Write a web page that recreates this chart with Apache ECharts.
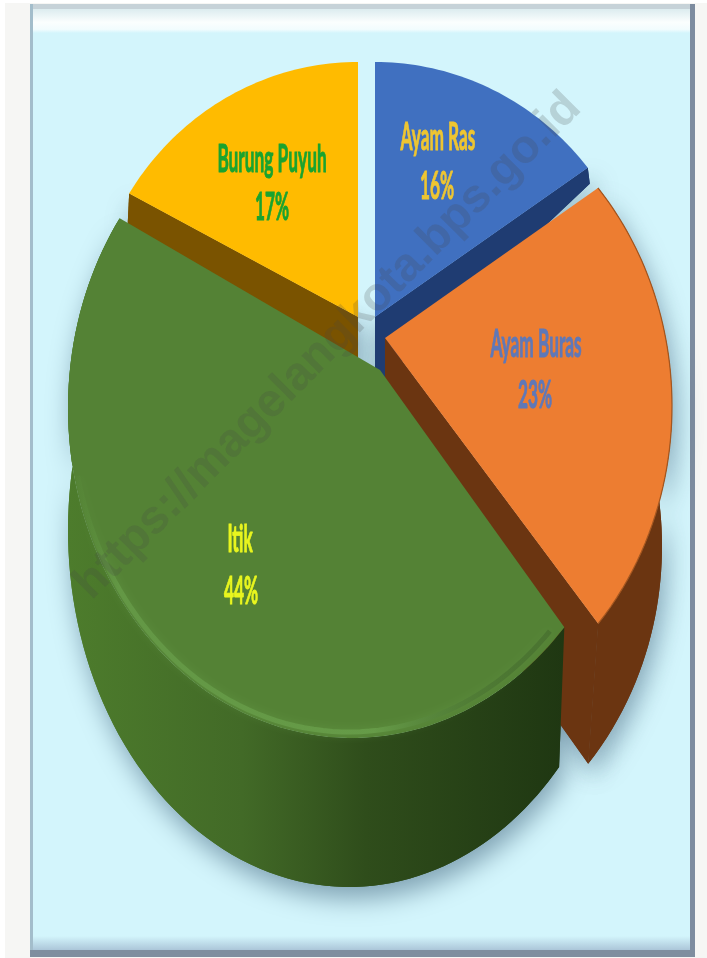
<!DOCTYPE html>
<html>
<head>
<meta charset="utf-8">
<style>html,body{margin:0;padding:0;background:#fff}#c{width:707px;height:958px}</style>
<script src="https://cdn.jsdelivr.net/npm/echarts@6/dist/echarts.min.js"></script>
</head>
<body>
<div id="c"></div>
<script>
const categories = ['Ayam Ras', 'Ayam Buras', 'Itik', 'Burung Puyuh'];
const values = [16, 23, 44, 17];
const watermark = 'https://magelangkota.bps.go.id';

// drawing geometry of the tilted, exploded pie (separate from the data)
const layout = [
  { e:[375,345,273,283], apex:[375,317], nudge:[0,3], top:'#4070c0',
    cut:'end', tip:[2,16], apexOff:[0,70], cutFill:'#1f3c72',
    label:[438,138], pct:[437,187], color:'#eec531' },
  { e:[375,406,297,330], apex:[385,338], nudge:[9,9], top:'#ed7d31', bottom:[365,546,297,330],
    wall:'#6b3511', cut:'end', tip:[-10,140], apexOff:[0,140], cutFill:'#6b3511', rimEdge:'#a4561f',
    label:[536,345], pct:[535,396], color:'#5f78b8' },
  { e:[352,408,284,330], apex:[380,370], nudge:[8.4,-10.6], top:'#548235', bottom:[349,530,281,357],
    wall:'grad', rimLight:[349,405,278,327],
    label:[240,540], pct:[241,592], color:'#e8f51e' },
  { e:[358,345,271,283], apex:[358,317], nudge:[-6.5,0], top:'#ffbb00',
    cut:'start', tip:[-2,42], apexOff:[0,60], cutFill:'#7a5300',
    label:[272,160], pct:[272,208], color:'#19a32f' }
];

const total = values.reduce((a, b) => a + b, 0);
function span(i) {
  let s = 0;
  for (let k = 0; k < i; k++) s += values[k];
  return [s / total * 360 + layout[i].nudge[0], (s + values[i]) / total * 360 + layout[i].nudge[1]];
}
// perspective image of a circle point: disk automorphism that sends the centre to the apex
function rimPoint(L, deg) {
  const r = deg * Math.PI / 180, zx = Math.sin(r), zy = -Math.cos(r);
  const wx = (L.apex[0] - L.e[0]) / L.e[2], wy = (L.apex[1] - L.e[1]) / L.e[3];
  const nx = zx + wx, ny = zy + wy;
  const dx = 1 + (wx * zx + wy * zy), dy = wx * zy - wy * zx;
  const m = dx * dx + dy * dy;
  return [(nx * dx + ny * dy) / m, (ny * dx - nx * dy) / m];
}
const onE = (e, t) => [e[0] + e[2] * t[0], e[1] + e[3] * t[1]];
function arc(L, a, b, e) {
  const pts = [], n = Math.max(8, Math.ceil(Math.abs(b - a) / 1.5));
  for (let i = 0; i <= n; i++) pts.push(onE(e, rimPoint(L, a + (b - a) * i / n)));
  return pts;
}
function wallFill(L) {
  if (L.wall === 'grad') {
    return new echarts.graphic.LinearGradient(68, 0, 565, 0, [
      { offset: 0, color: '#4d7c2c' }, { offset: 0.35, color: '#426a27' },
      { offset: 0.6, color: '#2f4d1b' }, { offset: 1, color: '#1f3712' }], true);
  }
  return L.wall;
}
function wallShapes(i, shadow) {
  const L = layout[i], [a, b] = span(i), kids = [];
  const sh = shadow ? { shadowBlur: 26, shadowColor: 'rgba(60,95,120,0.55)', shadowOffsetX: 4, shadowOffsetY: 12 } : {};
  if (L.cut) {
    const p = onE(L.e, rimPoint(L, L.cut === 'end' ? b : a));
    kids.push({ type: 'polygon', shape: { points: [p, [p[0] + L.tip[0], p[1] + L.tip[1]],
      [L.apex[0] + L.apexOff[0], L.apex[1] + L.apexOff[1]], L.apex] },
      style: Object.assign({ fill: L.cutFill }, sh) });
  }
  if (L.bottom) {
    const pts = arc(L, a, b, L.e).concat(arc(L, a, b, L.bottom).reverse());
    kids.push({ type: 'polygon', shape: { points: pts }, style: Object.assign({ fill: wallFill(L) }, sh) });
  }
  return { type: 'group', children: kids };
}
function topShapes(i) {
  const L = layout[i], [a, b] = span(i);
  const kids = [{ type: 'polygon', shape: { points: [L.apex].concat(arc(L, a, b, L.e)) }, style: { fill: L.top } }];
  if (L.rimEdge) {
    kids.push({ type: 'polyline', shape: { points: arc(L, a, b, L.e) }, style: { fill: 'none', stroke: L.rimEdge, lineWidth: 1.2 } });
  }
  if (L.rimLight) {
    const pts = arc(L, a + 2, b - 40, L.rimLight);
    kids.push({ type: 'polyline', shape: { points: pts }, style: { fill: 'none', lineWidth: 5, shadowBlur: 8,
      shadowColor: 'rgba(105,160,75,0.6)',
      stroke: new echarts.graphic.LinearGradient(70, 0, 560, 0, [
        { offset: 0, color: 'rgba(90,145,60,0)' }, { offset: 0.1, color: 'rgba(104,158,74,0.7)' },
        { offset: 0.62, color: 'rgba(104,158,74,0.85)' }, { offset: 0.85, color: 'rgba(70,110,48,0.5)' },
        { offset: 1, color: 'rgba(50,80,35,0.3)' }], true) } });
  }
  const txt = (s, at) => ({ type: 'text', x: at[0], y: at[1], scaleX: 0.72, scaleY: 1.6,
    style: { text: s, fill: L.color, stroke: L.color, lineWidth: 0.6,
      font: 'bold 24px Lato, "Liberation Sans", sans-serif',
      align: 'center', verticalAlign: 'middle' } });
  kids.push(txt(categories[i], L.label), txt(values[i] + '%', L.pct));
  return { type: 'group', children: kids };
}
const seriesData = values.map((v, i) => [v, i]);
const custom = (z, fn) => ({ type: 'custom', coordinateSystem: 'none', z, silent: true,
  data: seriesData, renderItem: (p) => fn(p.dataIndex) });

const grad = (x, y, x2, y2, stops) => new echarts.graphic.LinearGradient(x, y, x2, y2, stops);
const chart = echarts.init(document.getElementById('c'), null, { renderer: 'canvas' });
chart.setOption({
  animation: false,
  backgroundColor: '#ffffff',
  graphic: [
    { type: 'rect', z: -10, shape: { x: 5, y: 3, width: 702, height: 955 }, style: { fill: '#f6f6f4' } },
    { type: 'rect', z: -9, shape: { x: 30, y: 4, width: 665, height: 953 }, style: { fill: '#d3f5fc' } },
    { type: 'rect', z: -8, shape: { x: 33, y: 9, width: 660, height: 24 },
      style: { fill: grad(0, 0, 0, 1, [{ offset: 0, color: '#dcecef' }, { offset: 0.55, color: '#fbfefe' }, { offset: 0.85, color: '#f2fcfe' }, { offset: 1, color: '#d3f5fc' }]) } },
    { type: 'rect', z: -8, shape: { x: 30, y: 4, width: 665, height: 5 }, style: { fill: '#c6d2d8' } },
    { type: 'rect', z: -8, shape: { x: 30, y: 4, width: 3, height: 950 }, style: { fill: '#a3bdcb' } },
    { type: 'rect', z: -8, shape: { x: 690, y: 4, width: 5, height: 953 }, style: { fill: '#7d8c9f' } },
    { type: 'rect', z: -8, shape: { x: 33, y: 936, width: 657, height: 15 },
      style: { fill: grad(0, 0, 0, 1, [{ offset: 0, color: '#d3f5fc' }, { offset: 1, color: '#a9c3d6' }]) } },
    { type: 'rect', z: -8, shape: { x: 30, y: 950, width: 665, height: 7 }, style: { fill: '#7f8e9f' } },
    { type: 'text', z: 50, x: 328, y: 346, rotation: Math.PI / 4,
      style: { text: watermark, fill: 'rgba(70,70,70,0.2)', font: 'bold 47px "Liberation Sans", Arial, sans-serif',
        align: 'center', verticalAlign: 'middle' } }
  ],
  series: [
    custom(1, (i) => wallShapes(i, true)),
    custom(2, (i) => wallShapes(i, false)),
    custom(3, topShapes)
  ]
});
</script>
</body>
</html>
